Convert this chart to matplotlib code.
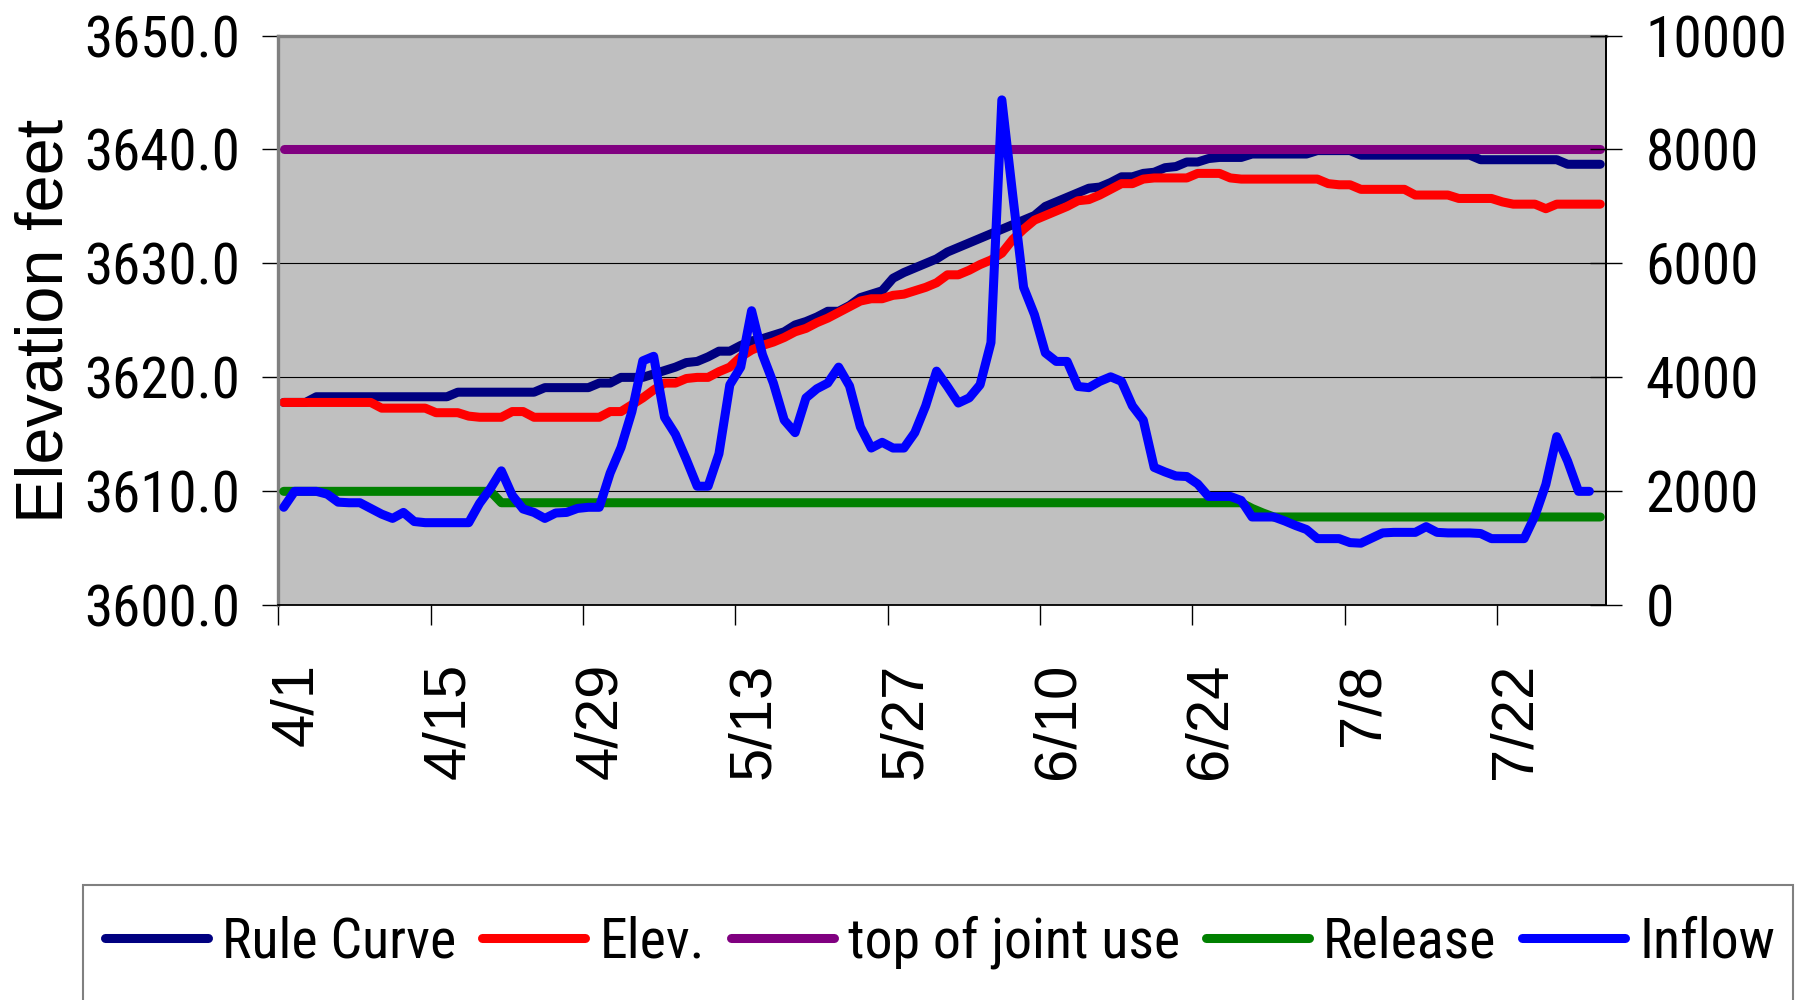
import numpy as np
import matplotlib
matplotlib.use("Agg")
import matplotlib.pyplot as plt
import matplotlib.transforms as mtransforms
from matplotlib.patches import Rectangle
from matplotlib import font_manager as fm
from matplotlib.textpath import TextPath
from matplotlib.font_manager import FontProperties

# ---------------- data (daily values, 4/1 .. 7/31) ----------------
tick_labels = ["4/1", "4/15", "4/29", "5/13", "5/27", "6/10", "6/24", "7/8", "7/22"]
tick_days = [0, 14, 28, 42, 56, 70, 84, 98, 112]

rule_curve = ([3617.8] * 3 + [3618.3] * 13 + [3618.7] * 8 + [3619.1] * 5 + [3619.5] * 2 + [3620.0] * 3 +
              [3620.3, 3620.6, 3620.9, 3621.3, 3621.4, 3621.8, 3622.3, 3622.3, 3622.8, 3623.2,
               3623.4, 3623.7, 3624.0, 3624.6, 3624.9, 3625.3, 3625.8, 3625.8, 3626.3, 3627.0,
               3627.3, 3627.6, 3628.7, 3629.2, 3629.6, 3630.0, 3630.4, 3631.0, 3631.4, 3631.8,
               3632.2, 3632.6, 3633.0, 3633.4, 3633.8, 3634.2, 3635.0, 3635.4, 3635.8, 3636.2,
               3636.6, 3636.7, 3637.1, 3637.6, 3637.6, 3637.9, 3638.0, 3638.4, 3638.5, 3638.9,
               3638.9, 3639.2, 3639.3, 3639.3, 3639.3] +
              [3639.6] * 6 + [3639.9] * 4 + [3639.5] * 11 + [3639.1] * 8 + [3638.7] * 4)

elev = ([3617.8] * 9 + [3617.3] * 5 + [3616.9] * 3 + [3616.6] + [3616.5] * 3 + [3617.0] * 2 +
        [3616.5] * 7 + [3617.0] * 2 +
        [3617.6, 3618.2, 3618.9, 3619.5, 3619.5, 3619.9, 3620.0, 3620.0, 3620.5, 3620.9,
         3621.8, 3622.4, 3622.8, 3623.1, 3623.5, 3624.0, 3624.3, 3624.8, 3625.2, 3625.7,
         3626.2, 3626.7, 3626.9, 3626.9, 3627.2, 3627.3, 3627.6, 3627.9, 3628.3, 3629.0,
         3629.0, 3629.4, 3629.9, 3630.3, 3630.9, 3632.1, 3633.0, 3633.8, 3634.2, 3634.6,
         3635.0, 3635.5, 3635.6, 3636.0, 3636.5, 3637.0, 3637.0, 3637.4] +
        [3637.5] * 4 + [3637.9] * 3 + [3637.5] + [3637.4] * 8 + [3637.0] + [3636.9] * 2 +
        [3636.5] * 5 + [3636.0] * 4 + [3635.7] * 4 + [3635.4] + [3635.2] * 3 + [3634.8] +
        [3635.2] * 5)

top_of_joint_use = [3640.0] * 122

release = [2000] * 20 + [1800] * 69 + [1700, 1620] + [1550] * 31

inflow = [1720, 2000, 2000, 2000, 1950, 1810, 1800, 1800, 1700, 1600,
          1525, 1630, 1470, 1450, 1450, 1450, 1450, 1450, 1790, 2050,
          2360, 1930, 1690, 1630, 1525, 1620, 1630, 1700, 1720, 1720,
          2320, 2770, 3400, 4290, 4370, 3300, 3000, 2560, 2090, 2090,
          2660, 3870, 4180, 5170, 4400, 3900, 3250, 3030, 3640, 3800,
          3900, 4180, 3850, 3130, 2760, 2860, 2760, 2760, 3030, 3500,
          4110, 3840, 3550, 3640, 3870, 4610, 8870, 7200, 5580, 5100,
          4430, 4280, 4280, 3840, 3820, 3930, 4010, 3930, 3500, 3250,
          2420, 2340, 2270, 2260, 2130, 1910, 1910, 1910, 1840, 1550,
          1550, 1550, 1480, 1400, 1330, 1170, 1170, 1170, 1100, 1090,
          1180, 1270, 1280, 1280, 1280, 1380, 1280, 1270, 1270, 1270,
          1260, 1170, 1170, 1170, 1170, 1570, 2120, 2960, 2530, 2000,
          2000]

series_names = ["Rule Curve", "Elev.", "top of joint use", "Release", "Inflow"]
colors = ["#000080", "#FF0000", "#800080", "#008000", "#0000FF"]

# ---------------- fonts ----------------
DPI = 100
installed = {f.name for f in fm.fontManager.ttflist}
narrow_name = next((n for n in ["Liberation Sans Narrow", "Arial Narrow", "Roboto Condensed",
                                "Open Sans Condensed", "Nimbus Sans Narrow"] if n in installed),
                   "Liberation Sans")
NARROW = [narrow_name, "Liberation Sans", "DejaVu Sans"]
REGULAR = ["Liberation Sans", "DejaVu Sans"]


def ink_width_px(text, family, size_pt):
    tp = TextPath((0, 0), text, size=size_pt, prop=FontProperties(family=family))
    return tp.get_extents().width * DPI / 72.0


def fit_size(texts, family, target_px, max_pt):
    w1 = sum(ink_width_px(t, family, 10.0) for t in texts) / 10.0
    return min(target_px / w1, max_pt)


left_tick_size = fit_size(["3650.0"], NARROW, 152, 41)
right_tick_size = fit_size(["10000"], NARROW, 134, 42)
legend_size = fit_size(series_names, NARROW, 950, 42)
legend_em_px = legend_size * DPI / 72.0

# ---------------- figure ----------------
fig = plt.figure(figsize=(18, 10), dpi=DPI)
ax = fig.add_axes([0.15461, 0.3947, 0.73744, 0.5698])
ax.set_facecolor("#C0C0C0")
ax.set_xlim(0, 122)
ax.set_ylim(3600, 3650)

LW = 6.5
common = dict(lw=LW, solid_capstyle="round", solid_joinstyle="round")

x_main = np.arange(len(rule_curve)) + 0.5
x_in = np.arange(len(inflow)) + 0.5

h1, = ax.plot(x_main, rule_curve, color=colors[0], label=series_names[0], **common)
h2, = ax.plot(x_main, elev, color=colors[1], label=series_names[1], **common)
h3, = ax.plot(x_main, top_of_joint_use, color=colors[2], label=series_names[2], **common)

ax2 = ax.twinx()
ax2.set_ylim(0, 10000)
h4, = ax2.plot(x_main, release, color=colors[3], label=series_names[3], **common)
h5, = ax2.plot(x_in, inflow, color=colors[4], label=series_names[4], **common)

# axes, ticks, grid
left_ticks = np.arange(3600, 3651, 10)
ax.set_yticks(left_ticks)
ax.set_yticklabels([f"{v:.1f}" for v in left_ticks])
ax.yaxis.grid(True, color="black", lw=0.8)
ax.xaxis.grid(False)

right_ticks = np.arange(0, 10001, 2000)
ax2.set_yticks(right_ticks)
ax2.set_yticklabels([f"{v}" for v in right_ticks])

ax.set_xticks(tick_days)
ax.set_xticklabels(tick_labels, rotation=90)

ax.tick_params(axis="y", direction="out", length=11.5, width=1.0, pad=16,
               labelsize=left_tick_size, colors="black")
ax.tick_params(axis="x", direction="out", length=14.5, width=1.0, pad=27,
               labelsize=43, colors="black")
ax2.tick_params(axis="y", direction="inout", length=23, width=1.0, pad=17,
                labelsize=right_tick_size, colors="black")

for lbl in ax.get_yticklabels() + ax2.get_yticklabels():
    lbl.set_fontfamily(NARROW)
shift = mtransforms.ScaledTranslation(0.18, 0, fig.dpi_scale_trans)
for lbl in ax.get_xticklabels():
    lbl.set_fontfamily(REGULAR)
    lbl.set_transform(lbl.get_transform() + shift)

ax.set_ylabel("Elevation feet", fontsize=48, family=REGULAR)
ax.yaxis.set_label_coords(-0.1517, 0.5)

# spines
for s in ["top", "left"]:
    ax.spines[s].set_color("#808080")
    ax.spines[s].set_linewidth(2.4)
for s in ["bottom", "right"]:
    ax.spines[s].set_color("black")
    ax.spines[s].set_linewidth(1.3)
for s in ["top", "left", "bottom"]:
    ax2.spines[s].set_visible(False)
ax2.spines["right"].set_color("black")
ax2.spines["right"].set_linewidth(1.3)

# legend box (clipped by the bottom of the figure)
box = Rectangle((83 / 1800, -0.03), (1793 - 83) / 1800, 0.115 + 0.03,
                transform=fig.transFigure, facecolor="white", edgecolor="#808080",
                lw=1.5, zorder=1, clip_on=False)
fig.add_artist(box)

leg = fig.legend([h1, h2, h3, h4, h5], series_names, loc="center left",
                 bbox_to_anchor=(105 / 1800, 1 - 942 / 1000), ncol=5, frameon=False,
                 prop={"family": NARROW, "size": legend_size},
                 handlelength=103 / legend_em_px, handletextpad=14 / legend_em_px,
                 columnspacing=26 / legend_em_px, borderpad=0, borderaxespad=0)
leg.set_zorder(5)

fig.savefig("out.png", dpi=DPI)
